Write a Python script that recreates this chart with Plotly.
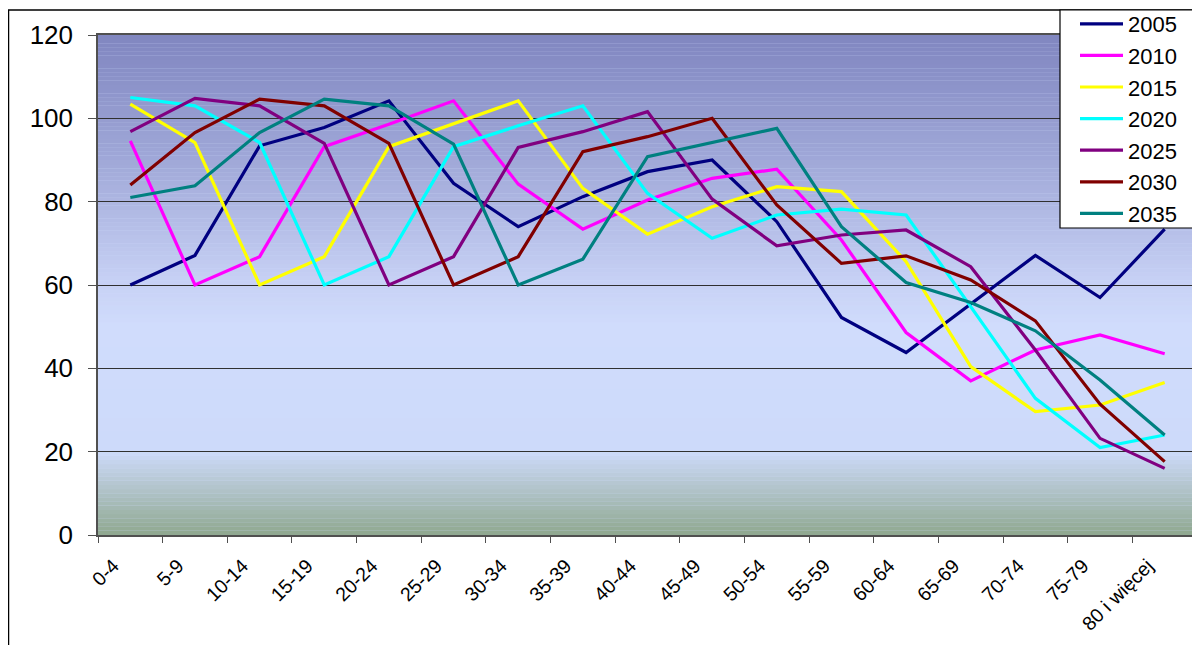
import plotly.graph_objects as go

categories = ["0-4", "5-9", "10-14", "15-19", "20-24", "25-29", "30-34", "35-39",
              "40-44", "45-49", "50-54", "55-59", "60-64", "65-69", "70-74", "75-79",
              "80 i więcej"]

y2005 = [60.0, 67.1, 93.4, 97.8, 104.2, 84.4, 74.0, 81.2, 87.2, 90.0, 75.2, 52.2, 43.8, 55.4, 67.1, 57.0, 73.4]
y2010 = [94.6, 60.0, 66.8, 93.2, 98.6, 104.2, 84.2, 73.4, 80.4, 85.6, 87.8, 70.8, 48.6, 37.0, 44.4, 48.0, 43.5]
y2015 = [103.4, 94.2, 60.0, 66.8, 93.2, 98.6, 104.2, 83.2, 72.2, 78.8, 83.6, 82.4, 65.6, 40.4, 29.6, 31.2, 36.6]
y2020 = [105.0, 103.0, 94.2, 60.0, 66.8, 93.2, 98.2, 103.0, 82.0, 71.2, 76.8, 78.2, 76.8, 54.8, 32.8, 21.0, 24.0]
y2025 = [96.8, 104.8, 103.0, 94.0, 60.0, 66.8, 93.0, 96.8, 101.6, 80.6, 69.4, 72.0, 73.2, 64.4, 44.4, 23.2, 16.0]
y2030 = [84.0, 96.6, 104.6, 103.0, 94.0, 60.0, 66.8, 92.0, 95.6, 100.0, 79.2, 65.2, 67.0, 61.2, 51.4, 31.4, 17.6]
y2035 = [81.0, 83.8, 96.6, 104.6, 103.0, 93.8, 60.0, 66.2, 90.8, 94.2, 97.6, 74.0, 60.6, 55.8, 49.0, 37.2, 24.0]

series_names = ["2005", "2010", "2015", "2020", "2025", "2030", "2035"]
series_values = [y2005, y2010, y2015, y2020, y2025, y2030, y2035]
series_colors = ["#000080", "#FF00FF", "#FFFF00", "#00FFFF", "#800080", "#800000", "#008080"]

FONT = "Arial, Liberation Sans, sans-serif"

# page offset (default body margin of the html page)
OFF = 8
W, H = 1200, 645
# plot area geometry in screen pixels
L, R, T, B = 98, 1197, 35, 535
PW, PH = R - L, B - T

def px_x(p):
    return (p - L) / PW

def px_y(p):
    return (B - p) / PH

fig = go.Figure()
for name, vals, col in zip(series_names, series_values, series_colors):
    fig.add_trace(go.Scatter(x=categories, y=vals, mode="lines", name=name,
                             line=dict(color=col, width=3.2)))

# background gradient (value-based stops)
stops = [(0, (143, 168, 143)), (20, (205, 218, 250)), (50, (208, 220, 252)),
         (60, (200, 210, 245)), (90, (160, 168, 216)), (120, (128, 134, 192))]

def col_at(v):
    for (a, ca), (b, cb) in zip(stops[:-1], stops[1:]):
        if a <= v <= b:
            t = (v - a) / (b - a)
            return "rgb(%d,%d,%d)" % tuple(round(ca[i] + (cb[i] - ca[i]) * t) for i in range(3))
    return "rgb(128,134,192)"

shapes = []
step = 1.0
v = 0.0
while v < 120:
    shapes.append(dict(type="rect", xref="x domain", yref="y", x0=0, x1=1,
                       y0=v, y1=v + step + 0.05, fillcolor=col_at(v + step / 2),
                       line=dict(width=0), layer="below"))
    v += step

# outer chart-area border
shapes.append(dict(type="rect", xref="paper", yref="paper",
                   x0=px_x(8.5), x1=px_x(1230), y0=px_y(700), y1=px_y(10),
                   line=dict(color="black", width=1.5), fillcolor="rgba(0,0,0,0)",
                   layer="above"))
# legend box
shapes.append(dict(type="rect", xref="paper", yref="paper",
                   x0=px_x(1060), x1=px_x(1230), y0=px_y(228), y1=px_y(10),
                   line=dict(color="black", width=1.2), fillcolor="white",
                   layer="above"))

fig.update_layout(
    width=W, height=H,
    margin=dict(l=L - OFF, r=W - (R - OFF), t=T - OFF, b=H - (B - OFF), autoexpand=False),
    paper_bgcolor="white",
    plot_bgcolor="#D0DCFC",
    font=dict(family=FONT, color="black"),
    shapes=shapes,
    showlegend=True,
    legend=dict(x=px_x(1075), y=px_y(3), xanchor="left", yanchor="top",
                bgcolor="rgba(0,0,0,0)", borderwidth=0,
                font=dict(size=22, family=FONT, color="black"),
                itemwidth=43, tracegroupgap=0),
)

fig.update_xaxes(
    type="category", range=[-0.5, 16.5], automargin=False,
    showline=True, linecolor="#505050", linewidth=1.5, mirror=True,
    ticks="outside", ticklen=6, tickcolor="#505050", tickson="boundaries",
    tickangle=-45, tickfont=dict(size=19.5, family=FONT, color="black"),
    ticklabelshift=-17, ticklabelstandoff=10,
    showgrid=False, zeroline=False,
)
fig.update_yaxes(
    range=[0, 120], dtick=20, tick0=0, automargin=False,
    showline=True, linecolor="#505050", linewidth=1.5, mirror=True,
    ticks="outside", ticklen=8, tickcolor="#505050",
    tickfont=dict(size=26, family=FONT, color="black"),
    ticklabelstandoff=10,
    showgrid=True, gridcolor="#303030", gridwidth=1, zeroline=False,
)

fig.write_html("out.html")
